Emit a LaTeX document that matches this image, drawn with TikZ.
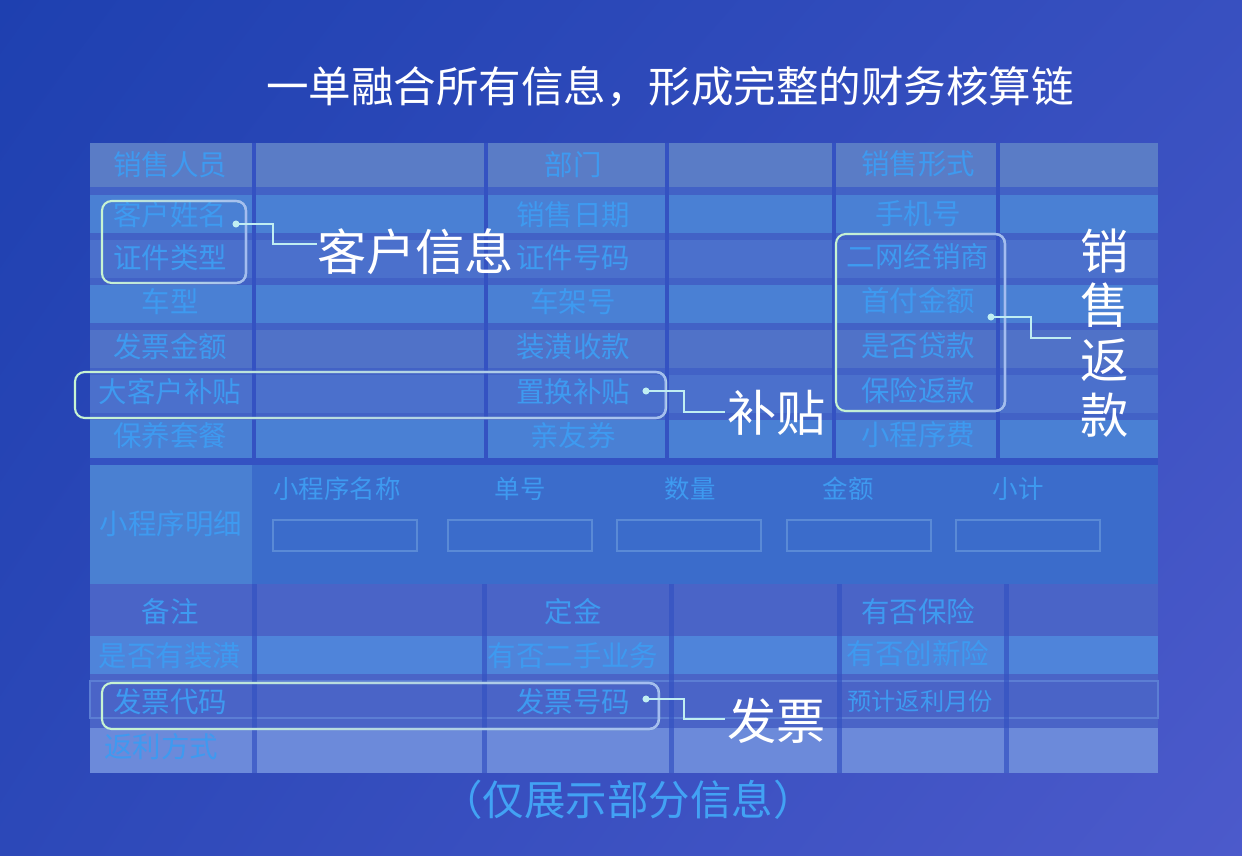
\documentclass[tikz,border=0pt]{standalone}
\usepackage{fontspec}
\setmainfont{Noto Sans CJK SC}
\usetikzlibrary{calc,fadings,shadings}
\definecolor{bgA}{HTML}{1E40B0}
\definecolor{bgB}{HTML}{3850C0}
\definecolor{bgC}{HTML}{2C48B8}
\definecolor{bgD}{HTML}{4C5ACB}
\definecolor{band}{HTML}{4262C6}
\definecolor{sep}{HTML}{3452C2}
\definecolor{rowA}{HTML}{5A7CC6}
\definecolor{rowB}{HTML}{4A80D4}
\definecolor{rowC}{HTML}{4B70CC}
\definecolor{rowD}{HTML}{5072C8}
\definecolor{midL}{HTML}{4A80D2}
\definecolor{midR}{HTML}{3B6CCB}
\definecolor{rowE}{HTML}{4A64C7}
\definecolor{rowF}{HTML}{4F84DA}
\definecolor{rowG}{HTML}{6C8ADA}
\definecolor{rowline}{HTML}{5C7ED4}
\definecolor{celltxt}{HTML}{3E9AF0}
\definecolor{fieldc}{HTML}{5A8AD6}
\definecolor{boxgreen}{HTML}{C8F5D2}
\definecolor{boxblue}{HTML}{A4BCF2}
\definecolor{wirec}{HTML}{C0EEF2}
\definecolor{footc}{HTML}{42A2F4}
\def\rowy{{165,215,258,302,347,392,436}}
\tikzset{
	cell/.style={text=celltxt, inner sep=0pt, font=\fontsize{16.2}{18}\selectfont},
	head/.style={text=celltxt, inner sep=0pt, font=\fontsize{14.5}{16}\selectfont},
	bigtxt/.style={text=white, inner sep=0pt, font=\fontsize{28}{30}\selectfont},
	callout/.style={rounded corners=5.5pt, line width=1.2pt, draw=boxgreen, postaction={draw=boxblue, path fading=west}},
	wire/.style={draw=wirec, line width=0.75pt},
	field/.style={draw=fieldc, line width=0.8pt}
}
\begin{document}
\begin{tikzpicture}[x=0.02cm, y=-0.02cm]
	\useasboundingbox (0,0) rectangle (1242,856);
	\shade[upper left=bgA, upper right=bgB, lower left=bgC, lower right=bgD] (0,0) rectangle (1242,856);
	\node[text=white, inner sep=0pt, font=\fontsize{24.2}{26}\selectfont] (title) at (670,87) {一单融合所有信息，形成完整的财务核算链};
	\fill[band] (90,143) rectangle (1158,458);
	\foreach \t/\b/\c in {143/187/rowA, 195/233/rowB, 240/278/rowC, 285/323/rowB, 330/368/rowD, 375/413/rowC, 420/458/rowB}
		\fill[\c] (90,\t) rectangle (1158,\b);
	\foreach \x in {252,484,665,832,996}
		\fill[sep] (\x,143) rectangle ++(4,315);
	\fill[sep] (90,458) rectangle (1158,465);
	\fill[midL] (90,465) rectangle (252,584);
	\fill[midR] (252,465) rectangle (1158,584);
	\fill[rowE] (90,584) rectangle (1158,636);
	\fill[rowF] (90,636) rectangle (1158,674);
	\fill[rowE] (90,674) rectangle (1158,728);
	\draw[rowline, line width=0.8pt] (90,681) rectangle (1158,718);
	\fill[rowG] (90,728) rectangle (1158,773);
	\foreach \x in {252,482,669,837,1004}
		\fill[sep, opacity=0.7] (\x,584) rectangle ++(5,189);
	\foreach \txt [count=\i] in {销售人员,客户姓名,证件类型,车型,发票金额,大客户补贴,保养套餐}
		\node[cell] (a\i) at (170,{\rowy[\i-1]}) {\txt};
	\foreach \txt [count=\i] in {部门,销售日期,证件号码,车架号,装潢收款,置换补贴,亲友券}
		\node[cell] (b\i) at (573,{\rowy[\i-1]}) {\txt};
	\foreach \txt [count=\i] in {销售形式,手机号,二网经销商,首付金额,是否贷款,保险返款,小程序费}
		\node[cell] (c\i) at (918,{\rowy[\i-1]-1}) {\txt};
	\node[cell] (mx) at (171,524) {小程序明细};
	\foreach \txt/\x [count=\i] in {小程序名称/337,单号/520,数量/690,金额/848,小计/1018}
		\node[head] (h\i) at (\x,489) {\txt};
	\foreach \x in {273,448,617,787,956}
		\draw[field] (\x,520) rectangle ++(144,31);
	\node[cell] (beizhu) at (170,612) {备注};
	\node[cell] (dingjin) at (573,612) {定金};
	\node[cell] (baoxian) at (918,612) {有否保险};
	\node[cell] (zhuanghuang) at (170,656) {是否有装潢};
	\node[cell] (ershou) at (573,656) {有否二手业务};
	\node[cell] (chuangxin) at (918,654) {有否创新险};
	\node[cell] (daima) at (170,702) {发票代码};
	\node[cell] (haoma) at (573,702) {发票号码};
	\node[head, font=\fontsize{13.8}{15}\selectfont] (yueshu) at (920,701) {预计返利月份};
	\node[cell] (fangshi) at (161,747) {返利方式};
	\draw[callout] (102,201) rectangle (246,283);
	\draw[callout] (75,372) rectangle (666,418);
	\draw[callout] (836,234) rectangle (1005,411);
	\draw[callout] (102,683) rectangle (659,729);
	\node[bigtxt, anchor=west] (kehu) at (317,252) {客户信息};
	\node[bigtxt, anchor=west] (butie) at (727,413) {补贴};
	\node[bigtxt, anchor=west] (fapiao) at (727,721) {发票};
	\node[bigtxt, align=center, font=\fontsize{27.5}{31.2}\selectfont] (fankuan) at (1105,333) {销\\售\\返\\款};
	\coordinate (kdot) at (236,224);
	\coordinate (bdot) at (646,391);
	\coordinate (xdot) at (991,317);
	\coordinate (fdot) at (646,699);
	\foreach \d in {kdot,bdot,xdot,fdot}
		\fill[wirec] (\d) circle (2pt);
	\draw[wire] (kdot) -- ++(37,0) |- ($(kehu.west)+(0,-8)$);
	\draw[wire] (bdot) -- ++(38,0) |- ($(butie.west)+(-2,-1)$);
	\draw[wire] (xdot) -- ++(40,0) |- ($(fankuan.west)+(-9,5)$);
	\draw[wire] (fdot) -- ++(38,0) |- ($(fapiao.west)+(-2,-2)$);
	\node[text=footc, inner sep=0pt, font=\fontsize{23.6}{25}\selectfont] (note) at (628,800) {（仅展示部分信息）};
\end{tikzpicture}
\end{document}
